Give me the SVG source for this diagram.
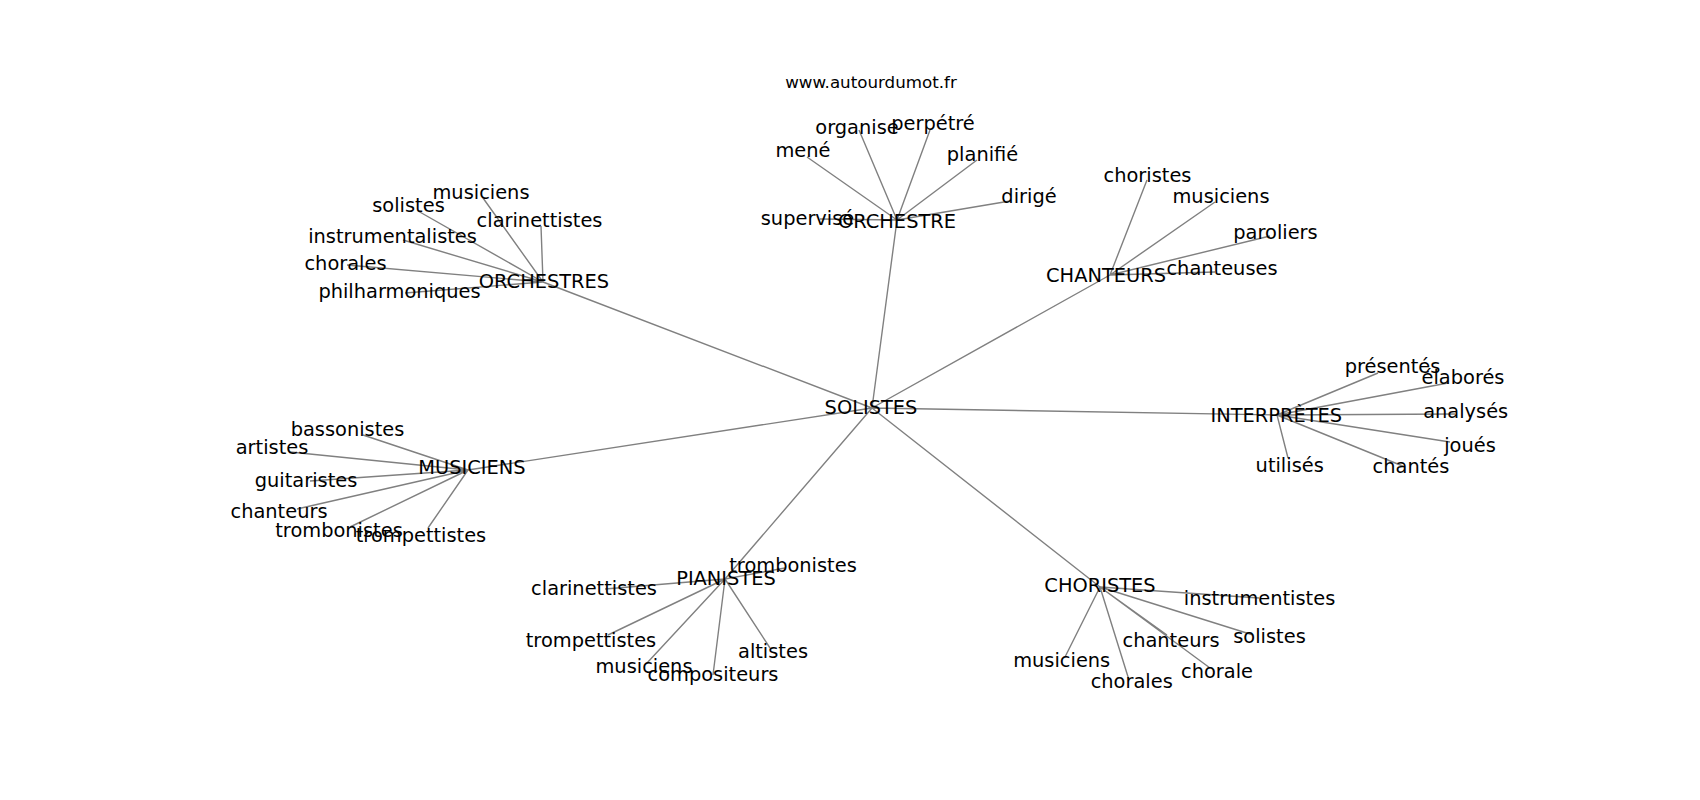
<svg xmlns="http://www.w3.org/2000/svg" width="1700" height="800" viewBox="0 0 1700 800">
<style>
.e{stroke:#808080;stroke-width:1.4;fill:none}
text{font-family:"DejaVu Sans","Liberation Sans",sans-serif;font-size:19.4px;fill:#000;text-anchor:middle}
.u{font-size:16.7px}
</style>
<rect width="1700" height="800" fill="#fff"/>
<g id="edges">
<path class="e" d="M872 408L543 282M872 408L897 220M872 408L1110 275M872 408L1277 415M872 408L468 470M872 408L725 579M872 408L1100 587"/>
<path class="e" d="M543 282L483 198M543 282L418 211M543 282L541 226M543 282L403 240M543 282L347 265M543 282L405 293"/>
<path class="e" d="M897 220L859 130M897 220L930 130M897 220L807 157M897 220L977 160M897 220L1010 201M897 220L820 219"/>
<path class="e" d="M1110 275L1147 180M1110 275L1215 202M1110 275L1270 236M1110 275L1215 272"/>
<path class="e" d="M1277 415L1378 373M1277 415L1448 383M1277 415L1455 414M1277 415L1450 442M1277 415L1288 458M1277 415L1405 467"/>
<path class="e" d="M468 470L363 435M468 470L290 452M468 470L310 481M468 470L297 509M468 470L350 527M468 470L428 528"/>
<path class="e" d="M725 579L785 568M725 579L605 589M725 579L608 635M725 579L647 663M725 579L713 675M725 579L770 648"/>
<path class="e" d="M1100 587L1259 598M1100 587L1253 635M1100 587L1167 635M1100 587L1210 668M1100 587L1065 657M1100 587L1129 680"/>
</g>
<g id="site"><text class="u" x="871" y="88">www.autourdumot.fr</text></g>
<g id="n-solistes"><text x="871" y="414">SOLISTES</text></g>
<g id="n-orchestres">
<text x="544" y="288">ORCHESTRES</text>
<text x="481" y="199">musiciens</text>
<text x="408.5" y="212">solistes</text>
<text x="539.5" y="227">clarinettistes</text>
<text x="392.5" y="243">instrumentalistes</text>
<text x="345.5" y="270">chorales</text>
<text x="399.5" y="298">philharmoniques</text>
</g>
<g id="n-orchestre">
<text x="897" y="228">ORCHESTRE</text>
<text x="857" y="134">organise</text>
<text x="933" y="130">perpétré</text>
<text x="803" y="157">mené</text>
<text x="982.5" y="161">planifié</text>
<text x="1029" y="203">dirigé</text>
<text x="807.5" y="225">supervisé</text>
</g>
<g id="n-chanteurs">
<text x="1106" y="282">CHANTEURS</text>
<text x="1147.5" y="182">choristes</text>
<text x="1221" y="203">musiciens</text>
<text x="1275.5" y="239">paroliers</text>
<text x="1222" y="275">chanteuses</text>
</g>
<g id="n-interpretes">
<text x="1276.3" y="422">INTERPRÈTES</text>
<text x="1392.5" y="373">présentés</text>
<text x="1463" y="384">élaborés</text>
<text x="1465.7" y="418">analysés</text>
<text x="1470" y="452">joués</text>
<text x="1289.7" y="472">utilisés</text>
<text x="1411" y="473">chantés</text>
</g>
<g id="n-musiciens">
<text x="472" y="474">MUSICIENS</text>
<text x="347.5" y="436">bassonistes</text>
<text x="272" y="454">artistes</text>
<text x="306" y="487">guitaristes</text>
<text x="279" y="518">chanteurs</text>
<text x="339" y="537">trombonistes</text>
<text x="421" y="542">trompettistes</text>
</g>
<g id="n-pianistes">
<text x="726" y="585">PIANISTES</text>
<text x="793" y="572">trombonistes</text>
<text x="594" y="595">clarinettistes</text>
<text x="591" y="647">trompettistes</text>
<text x="644" y="673">musiciens</text>
<text x="713" y="681">compositeurs</text>
<text x="773" y="658">altistes</text>
</g>
<g id="n-choristes">
<text x="1100" y="592">CHORISTES</text>
<text x="1259.5" y="605">instrumentistes</text>
<text x="1269.5" y="643">solistes</text>
<text x="1171" y="647">chanteurs</text>
<text x="1217" y="678">chorale</text>
<text x="1061.7" y="667">musiciens</text>
<text x="1131.7" y="688">chorales</text>
</g>
</svg>
